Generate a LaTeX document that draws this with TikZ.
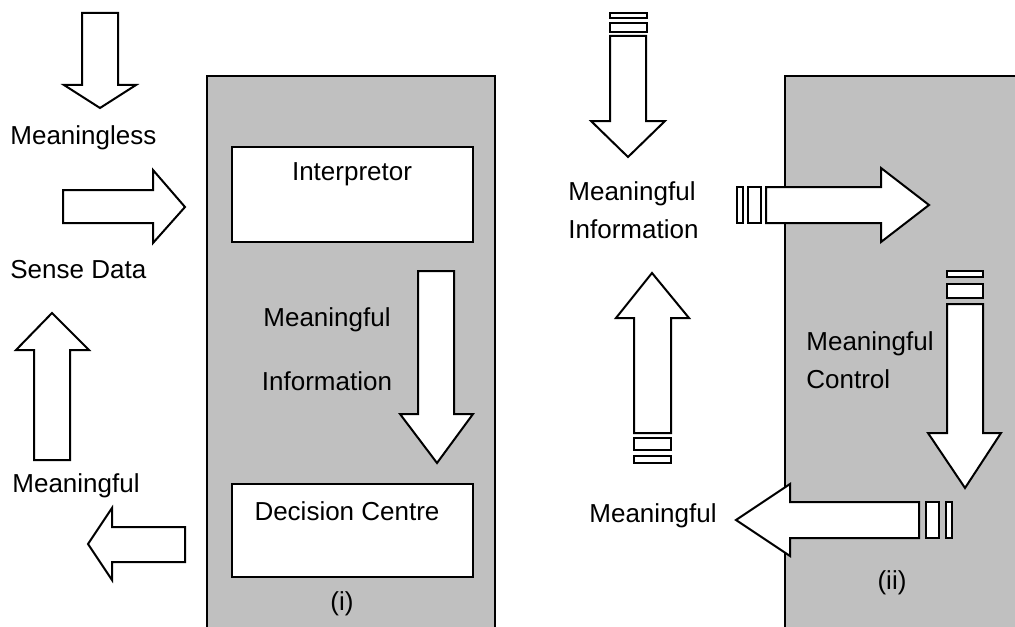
\documentclass[tikz,border=0pt]{standalone}
\usepackage{fontspec}
\setmainfont{Liberation Sans}
\definecolor{panelgray}{RGB}{192,192,192}
\begin{document}
\begin{tikzpicture}[x=0.5pt,y=-0.5pt,
  outline/.style={draw=black,line width=1pt,line join=miter},
  panel/.style={outline,fill=panelgray},
  whitebox/.style={outline,fill=white},
  blockarrow/.style={outline,fill=white},
  stripe/.style={outline,fill=white},
  lbl/.style={font=\fontsize{13}{15}\selectfont,inner sep=0pt}]
\useasboundingbox (0,0) rectangle (1015,626);
\clip (0,0) rectangle (1015,626);

% ---- panel (i): interpreter and decision centre ----
\path[panel] (207,76) rectangle (495,650);
\draw[whitebox] (232,147) rectangle (473,242);
\node[lbl] (interp) at (352,174) {Interpretor};
\draw[whitebox] (232,484) rectangle (473,577);
\node[lbl] (decision) at (347,511) {Decision Centre};
\node[lbl] (infoA) at (327,320) {Meaningful};
\node[lbl] (infoB) at (327,381) {Information};
\node[lbl] (paneli) at (342,604) {(i)};
\draw[blockarrow] (418,271) -- (454,271) -- (454,414) -- (473,414)
  -- (437,463) -- (400,414) -- (418,414) -- cycle;

% ---- outside panel (i) ----
\draw[blockarrow] (82,13) -- (118,13) -- (118,85) -- (136,85)
  -- (100,108) -- (64,85) -- (82,85) -- cycle;
\node[lbl,anchor=west] (meaningless) at (10,138) {Meaningless};
\draw[blockarrow] (63,190) -- (153,190) -- (153,170) -- (185,207)
  -- (153,243) -- (153,223) -- (63,223) -- cycle;
\node[lbl,anchor=west] (sense) at (10,270) {Sense Data};
\draw[blockarrow] (34,460) -- (34,350) -- (16,350) -- (52,313)
  -- (89,350) -- (70,350) -- (70,460) -- cycle;
\node[lbl,anchor=west] (meanout) at (12,486) {Meaningful};
\draw[blockarrow] (185,527) -- (112,527) -- (112,508) -- (88,544)
  -- (112,580) -- (112,562) -- (185,562) -- cycle;

% ---- panel (ii): control ----
\path[panel] (785,76) rectangle (1040,650);
\node[lbl] (panelii) at (892,583) {(ii)};
\node[lbl,anchor=west,align=left] (ctrl) at (806,360) {Meaningful\\[4pt]Control};

% striped down arrow inside panel (ii)
\draw[stripe] (947,271) rectangle (983,277);
\draw[stripe] (947,284) rectangle (983,298);
\draw[blockarrow] (947,304) -- (983,304) -- (983,433) -- (1001,433)
  -- (965,488) -- (928,433) -- (947,433) -- cycle;

% striped left arrow leaving panel (ii)
\draw[blockarrow] (919,502) -- (790,502) -- (790,484) -- (736,520)
  -- (790,556) -- (790,538) -- (919,538) -- cycle;
\draw[stripe] (926,502) rectangle (939,538);
\draw[stripe] (946,502) rectangle (952,538);
\node[lbl,anchor=east] (meanctl) at (717,516) {Meaningful};

% striped right arrow entering panel (ii)
\draw[stripe] (737,187) rectangle (743,223);
\draw[stripe] (748,187) rectangle (761,223);
\draw[blockarrow] (766,187) -- (881,187) -- (881,168) -- (929,205)
  -- (881,242) -- (881,223) -- (766,223) -- cycle;
\node[lbl,anchor=west,align=left] (midinfo) at (568,210) {Meaningful\\[4pt]Information};

% striped down arrow above the label
\draw[stripe] (610,13) rectangle (647,18);
\draw[stripe] (610,23) rectangle (647,32);
\draw[blockarrow] (610,36) -- (646,36) -- (646,121) -- (665,121)
  -- (628,157) -- (591,121) -- (610,121) -- cycle;

% striped up arrow below the label
\draw[blockarrow] (634,433) -- (634,318) -- (616,318) -- (652,273)
  -- (689,318) -- (671,318) -- (671,433) -- cycle;
\draw[stripe] (634,438) rectangle (671,450);
\draw[stripe] (634,456) rectangle (671,463);
\end{tikzpicture}
\end{document}
